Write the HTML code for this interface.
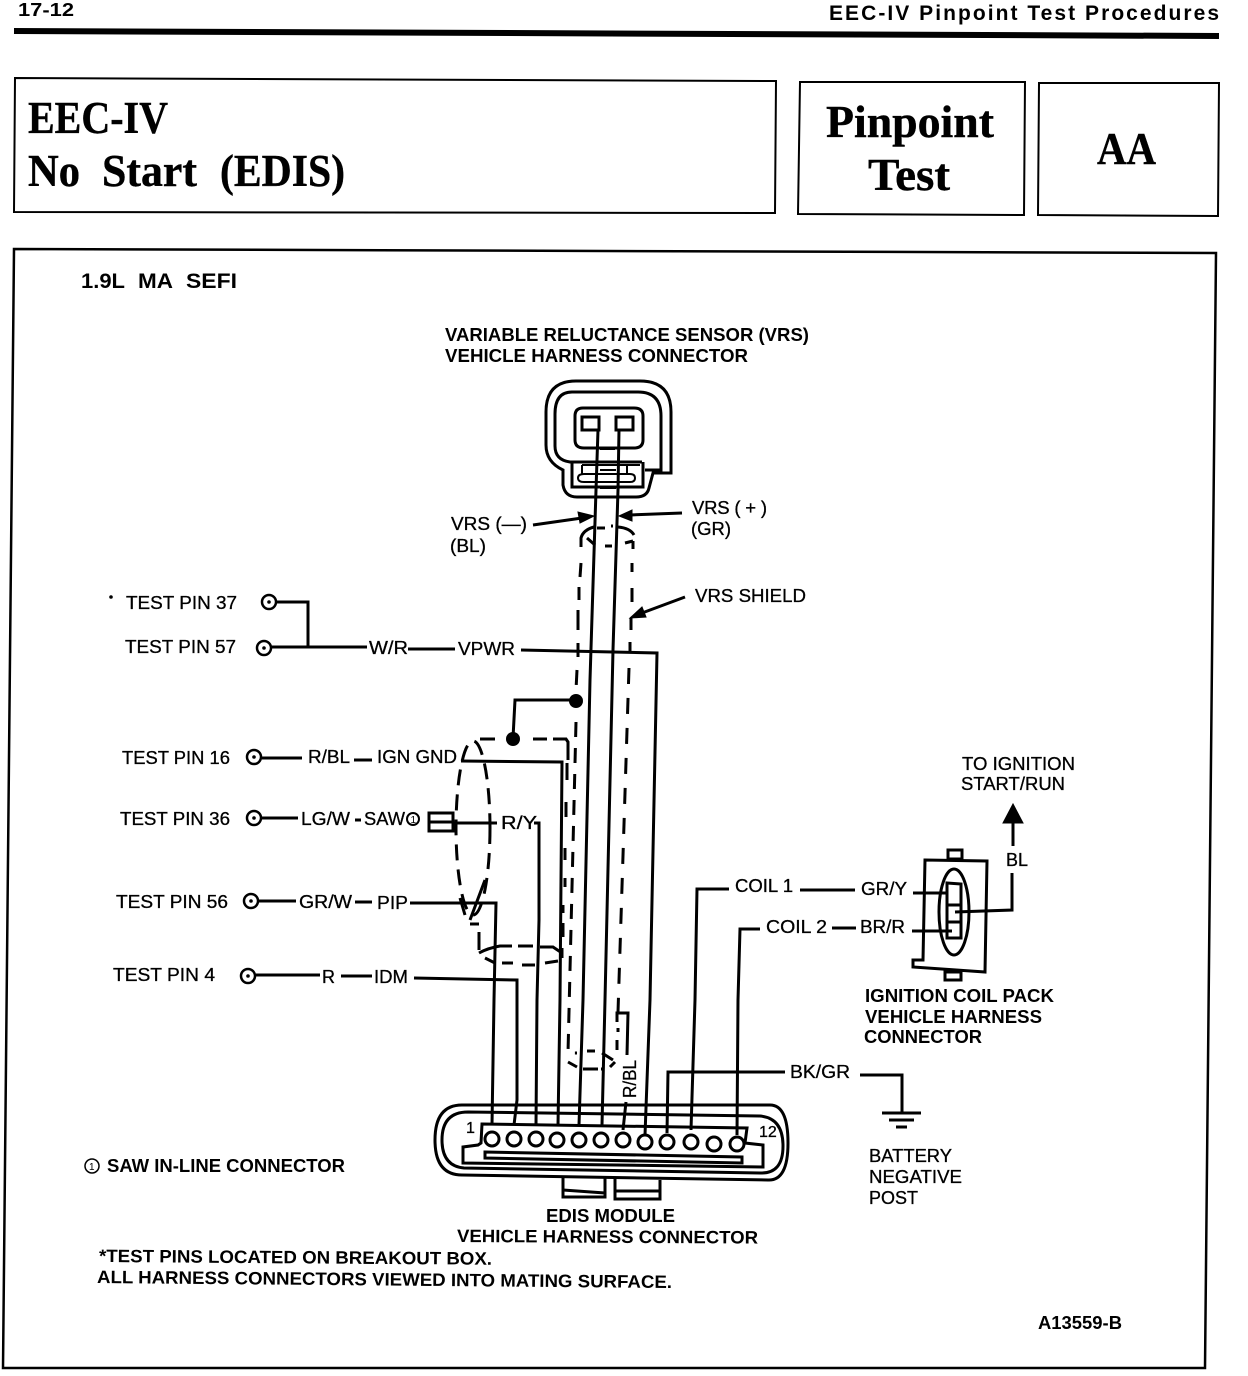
<!DOCTYPE html>
<html><head><meta charset="utf-8"><style>
html,body{margin:0;padding:0;background:#fff}
svg{display:block}
text{font-family:"Liberation Sans",sans-serif;fill:#000;font-size:18.5px;stroke:#000;stroke-width:.3}
.b{font-weight:bold;font-size:18px;stroke-width:0}
.s{font-family:"Liberation Serif",serif;font-weight:bold;font-size:45px;stroke-width:.4}
.w{fill:none;stroke:#000;stroke-width:3}
.d{fill:none;stroke:#000;stroke-width:3;stroke-dasharray:15 11}
.t{fill:none;stroke:#000;stroke-width:2}
</style></head><body>
<svg width="1248" height="1376" viewBox="0 0 1248 1376" xmlns="http://www.w3.org/2000/svg">
<rect width="1248" height="1376" fill="#fff"/>
<text x="18" y="16" class="b" textLength="56" lengthAdjust="spacingAndGlyphs">17-12</text>
<text x="829" y="20" class="b" style="font-size:21px" textLength="390">EEC-IV Pinpoint Test Procedures</text>
<path d="M14 31 L1219 36" stroke="#000" stroke-width="6" fill="none"/>
<path class="t" d="M15 78 L776 81 L775 213 L14 212 Z"/>
<path class="t" d="M800 82 L1025 82 L1024 215 L798 214 Z"/>
<path class="t" d="M1039 83 L1219 83 L1218 216 L1038 215 Z"/>
<text x="28" y="133" class="s" textLength="140" lengthAdjust="spacingAndGlyphs">EEC-IV</text>
<text x="28" y="186" class="s" textLength="52" lengthAdjust="spacingAndGlyphs">No</text>
<text x="102" y="186" class="s" textLength="95" lengthAdjust="spacingAndGlyphs">Start</text>
<text x="220" y="186" class="s" textLength="125" lengthAdjust="spacingAndGlyphs">(EDIS)</text>
<text x="826" y="137" class="s" textLength="168" lengthAdjust="spacingAndGlyphs">Pinpoint</text>
<text x="868" y="190" class="s" textLength="82" lengthAdjust="spacingAndGlyphs">Test</text>
<text x="1097" y="164" class="s" textLength="59" lengthAdjust="spacingAndGlyphs">AA</text>
<path class="w" style="stroke-width:2.5" d="M14 249 L1216 253 L1205 1368 L3 1368 Z"/>
<text x="81" y="288" class="b" style="font-size:21px" textLength="44" lengthAdjust="spacingAndGlyphs">1.9L</text>
<text x="138" y="288" class="b" style="font-size:21px" textLength="35" lengthAdjust="spacingAndGlyphs">MA</text>
<text x="186" y="288" class="b" style="font-size:21px" textLength="51" lengthAdjust="spacingAndGlyphs">SEFI</text>
<text x="445" y="341" class="b" textLength="364" lengthAdjust="spacingAndGlyphs">VARIABLE RELUCTANCE SENSOR (VRS)</text>
<text x="445" y="362" class="b" textLength="303" lengthAdjust="spacingAndGlyphs">VEHICLE HARNESS CONNECTOR</text>

<!-- VRS connector -->
<path class="w" d="M576 381 H640 Q671 381 671 412 V473 H653 L649 488 Q647 497 636 497 H577 Q565 497 563 485 V470 Q546 462 546 445 V412 Q546 381 576 381 Z"/>
<path class="w" d="M572 392 H638 Q661 392 661 416 V470 H645"/>
<path class="w" d="M572 392 Q555 392 555 414 V446 Q555 460 570 462 H642"/>
<path class="w" d="M572 462 V487 H643 V462"/>
<path class="w" d="M583 408 H634 Q643 408 643 416 V440 Q643 448 634 448 H584 Q575 448 575 440 V416 Q575 408 583 408 Z"/>
<rect class="w" x="582" y="417" width="17" height="13"/>
<rect class="w" x="616" y="417" width="17" height="13"/>
<path class="t" d="M600 449 H615 M582 465 H640 M600 470 H616 M600 488 H616 M582 465 V474 M627 465 V474 M600 482 H616"/>
<path class="t" d="M584 474 H630 Q635 474 635 478 Q635 482 630 482 H584 Q578 482 578 478 Q578 474 584 474 Z"/>
<path class="w" d="M598 430 L596 490 L590 680 L583 1000 L579 1125"/>
<path class="w" d="M619 430 L618 490 L613 650 L605 1000 L602 1125"/>

<!-- VRS labels -->
<text x="451" y="530" textLength="76" lengthAdjust="spacingAndGlyphs">VRS (—)</text><text x="450" y="552" textLength="36" lengthAdjust="spacingAndGlyphs">(BL)</text>
<path class="w" d="M533 525 L582 518"/><path d="M594 516 L578 512 L580 523 Z" stroke="#000"/>
<text x="692" y="514" textLength="75">VRS ( + )</text><text x="691" y="535" textLength="40" lengthAdjust="spacingAndGlyphs">(GR)</text>
<path class="w" d="M682 513 L630 515"/><path d="M619 516 L632 510 L632 521 Z" stroke="#000"/>
<text x="695" y="602" textLength="111" lengthAdjust="spacingAndGlyphs">VRS SHIELD</text>
<path class="w" d="M685 597 L642 613"/><path d="M630 618 L642 607 L646 617 Z" stroke="#000"/>

<!-- shield dashes -->
<path class="w" d="M581 547 V538 Q583 530 594 527 M597 528 H605 M611 526 H613 M618 527 Q630 528 634 535 M587 538 L595 545 M605 546 H612 M625 543 L633 541 M633 541 V549 M632 563 V572 M632 588 V602 M631 618 V630 M630 642 V653 M581 563 L580 577 M579 587 V600 M578 610 V630 M578 643 V657"/>
<path class="d" d="M577 670 L576 690"/>
<path class="d" d="M576 722 L568 1053 H577"/>
<path class="d" style="stroke-dasharray:16 14" d="M629 668 L618 1012"/>
<path class="w" d="M617 1022 V1013 H628 L627 1055"/>
<path class="w" d="M587 1051 H595 M602 1053 L613 1060 M617 1040 V1050 M618 1028 V1032 M568 1062 L577 1067 M583 1069 H598 M601 1069 H604 M610 1067 L615 1062"/>

<!-- test pins -->
<circle cx="111" cy="597" r="1.8"/>
<text x="126" y="609" textLength="111" lengthAdjust="spacingAndGlyphs">TEST PIN 37</text>
<text x="125" y="653" textLength="111" lengthAdjust="spacingAndGlyphs">TEST PIN 57</text>
<text x="122" y="764" textLength="108" lengthAdjust="spacingAndGlyphs">TEST PIN 16</text>
<text x="120" y="825" textLength="110" lengthAdjust="spacingAndGlyphs">TEST PIN 36</text>
<text x="116" y="908" textLength="112" lengthAdjust="spacingAndGlyphs">TEST PIN 56</text>
<text x="113" y="981" textLength="102" lengthAdjust="spacingAndGlyphs">TEST PIN 4</text>
<g fill="#fff" stroke="#000" stroke-width="2.5">
<circle cx="269" cy="602" r="7"/><circle cx="264" cy="648" r="7"/><circle cx="254" cy="757" r="7"/><circle cx="254" cy="818" r="7"/><circle cx="251" cy="901" r="7"/><circle cx="248" cy="976" r="7"/>
</g>
<g><circle cx="269" cy="602" r="1.8"/><circle cx="264" cy="648" r="1.8"/><circle cx="254" cy="757" r="1.8"/><circle cx="254" cy="818" r="1.8"/><circle cx="251" cy="901" r="1.8"/><circle cx="248" cy="976" r="1.8"/></g>

<path class="w" d="M276 602 H308 V647 M272 647 H367 M408 649 H455 M521 650 L657 653 L650 1000 L645 1135"/>
<text x="369" y="654" textLength="39" lengthAdjust="spacingAndGlyphs">W/R</text><text x="458" y="655" textLength="57" lengthAdjust="spacingAndGlyphs">VPWR</text>
<path class="w" d="M262 758 H302 M354 760 H372 M262 818 H298 M355 820 H361 M259 901 H296 M355 902 H372 M256 975 H320 M341 976 H372"/>
<text x="308" y="763" textLength="42" lengthAdjust="spacingAndGlyphs">R/BL</text><text x="377" y="763" textLength="80" lengthAdjust="spacingAndGlyphs">IGN GND</text>
<text x="301" y="825" textLength="49" lengthAdjust="spacingAndGlyphs">LG/W</text><text x="364" y="825" textLength="41" lengthAdjust="spacingAndGlyphs">SAW</text>
<circle cx="413" cy="819" r="6" fill="#fff" stroke="#000" stroke-width="2"/><text x="410.5" y="823" style="font-size:10px;stroke-width:0">1</text>
<rect class="w" x="429" y="813" width="24" height="18"/><path class="w" d="M429 822 H453"/>
<path class="w" d="M454 823 H497 M534 823 H539 V920 L537 1000 L536 1125"/>
<text x="501" y="829" textLength="36" lengthAdjust="spacingAndGlyphs">R/Y</text>
<text x="299" y="908" textLength="53" lengthAdjust="spacingAndGlyphs">GR/W</text><text x="377" y="909" textLength="31" lengthAdjust="spacingAndGlyphs">PIP</text>
<text x="322" y="983" textLength="13" lengthAdjust="spacingAndGlyphs">R</text><text x="374" y="983" textLength="34" lengthAdjust="spacingAndGlyphs">IDM</text>
<path class="w" d="M410 903 H496 L494 1000 L492 1125"/>
<path class="w" d="M414 978 L517 980 V1100 L514 1125"/>
<path class="w" d="M461 761 L562 762 L560 1000 L558 1125"/>

<path class="w" d="M513 738 L515 700 H576"/>
<circle cx="576" cy="701" r="7"/><circle cx="513" cy="739" r="7"/>

<ellipse class="d" style="stroke-dasharray:16 9" cx="473" cy="828" rx="17" ry="87"/>
<path class="w" d="M470 924 H479 M479 932 V950 M460 898 L465 915 M485 880 L470 920"/>
<path class="w" d="M480 739 H495 M533 739 H547 M553 739 H566 L568 742 V760 M567 763 V780 M566 802 V817 M565 848 V860 M565 878 V887 M563 905 V913 M563 923 V937 M562 948 V958"/>
<path class="w" d="M479 953 Q488 948 500 946 H512 M518 946 H533 M540 947 H553 L562 953 M485 958 L495 963 M502 963 H513 M522 965 H535 M545 963 L558 961"/>

<!-- EDIS connector -->
<path class="w" d="M462 1105 H770 Q788 1105 788 1143 Q788 1181 768 1180 L462 1175 Q435 1175 435 1140 Q435 1105 462 1105 Z"/>
<path class="w" d="M468 1112 L760 1116 Q783 1118 783 1146 Q783 1174 760 1173 L464 1168 Q442 1166 442 1140 Q442 1112 468 1112 Z"/>
<path class="w" d="M482 1124 L747 1128 L745 1143 L763 1145 V1167 L463 1163 V1147 L478 1145 L481 1143 Z"/>
<path class="w" d="M485 1152 L742 1157 V1163 L485 1158 Z"/>
<g fill="#fff" stroke="#000" stroke-width="3">
<circle cx="492" cy="1139" r="7"/><circle cx="514" cy="1139" r="7"/><circle cx="536" cy="1139" r="7"/><circle cx="557" cy="1140" r="7"/><circle cx="579" cy="1140" r="7"/><circle cx="601" cy="1140" r="7"/><circle cx="623" cy="1140" r="7"/><circle cx="645" cy="1142" r="7"/><circle cx="667" cy="1142" r="7"/><circle cx="691" cy="1142" r="7"/><circle cx="714" cy="1144" r="7"/><circle cx="737" cy="1144" r="7"/>
</g>
<text x="466" y="1133" style="font-size:16px">1</text><text x="759" y="1137" style="font-size:16px">12</text>
<path class="w" d="M563 1178 V1197 H605 V1178 M563 1190 L605 1193 M615 1178 V1199 H660 V1180 M615 1191 L660 1191"/>
<text x="636" y="1098" transform="rotate(-90 636 1098)" textLength="38" lengthAdjust="spacingAndGlyphs">R/BL</text>
<path class="w" d="M626 1102 L623 1130"/>

<!-- coil wires -->
<path class="w" d="M691 1130 L695 1000 L697 889 H729 M800 890 H855 M737 1135 L738 1000 L740 929 H760 M832 928 H856"/>
<path class="w" d="M667 1133 L668 1072 H785 M860 1075 H902 V1112"/>
<text x="735" y="892" textLength="58" lengthAdjust="spacingAndGlyphs">COIL 1</text><text x="766" y="933" textLength="61" lengthAdjust="spacingAndGlyphs">COIL 2</text>
<text x="861" y="895" textLength="46" lengthAdjust="spacingAndGlyphs">GR/Y</text><text x="860" y="933" textLength="45" lengthAdjust="spacingAndGlyphs">BR/R</text>
<text x="790" y="1078" textLength="60" lengthAdjust="spacingAndGlyphs">BK/GR</text>
<path class="w" d="M882 1113 H921 M889 1120 H914 M896 1127 H907"/>

<!-- coil pack -->
<path class="w" d="M925 860 L987 861 L985 972 L913 967 V960 H923 Z"/>
<rect class="w" x="948" y="850" width="14" height="9"/>
<rect class="w" x="945" y="972" width="16" height="8"/>
<ellipse class="w" cx="954" cy="912" rx="15" ry="43"/>
<path class="w" d="M947 883 L961 884 V938 L947 938 Z M948 905 H961 M948 922 H961"/>
<path class="w" d="M913 893 H948 M912 931 H952 M955 912 L1012 910 V873"/>
<path class="w" d="M1013 846 V823"/><path d="M1013 804 L1003 823 H1023 Z" stroke="#000"/>
<text x="1006" y="866" textLength="22" lengthAdjust="spacingAndGlyphs">BL</text>
<text x="962" y="770" textLength="113" lengthAdjust="spacingAndGlyphs">TO IGNITION</text><text x="961" y="790" textLength="104" lengthAdjust="spacingAndGlyphs">START/RUN</text>
<text x="865" y="1002" class="b" textLength="189" lengthAdjust="spacingAndGlyphs">IGNITION COIL PACK</text>
<text x="865" y="1023" class="b" textLength="177" lengthAdjust="spacingAndGlyphs">VEHICLE HARNESS</text>
<text x="864" y="1043" class="b" textLength="118" lengthAdjust="spacingAndGlyphs">CONNECTOR</text>
<text x="869" y="1162" textLength="83" lengthAdjust="spacingAndGlyphs">BATTERY</text><text x="869" y="1183" textLength="93" lengthAdjust="spacingAndGlyphs">NEGATIVE</text><text x="869" y="1204" textLength="49" lengthAdjust="spacingAndGlyphs">POST</text>

<circle cx="92" cy="1166" r="7" fill="#fff" stroke="#000" stroke-width="1.5"/><text x="89" y="1170" style="font-size:10px;stroke-width:0">1</text>
<text x="107" y="1172" class="b" textLength="238" lengthAdjust="spacingAndGlyphs">SAW IN-LINE CONNECTOR</text>
<text x="546" y="1222" class="b" textLength="129" lengthAdjust="spacingAndGlyphs">EDIS MODULE</text>
<text x="457" y="1242" class="b" textLength="301" lengthAdjust="spacingAndGlyphs" transform="rotate(.3 457 1242)">VEHICLE HARNESS CONNECTOR</text>
<text x="99" y="1262" class="b" transform="rotate(.4 99 1262)" textLength="393" lengthAdjust="spacingAndGlyphs">*TEST PINS LOCATED ON BREAKOUT BOX.</text>
<text x="97" y="1283" class="b" transform="rotate(.5 97 1283)" textLength="575" lengthAdjust="spacingAndGlyphs">ALL HARNESS CONNECTORS VIEWED INTO MATING SURFACE.</text>
<text x="1038" y="1329" class="b" textLength="84" lengthAdjust="spacingAndGlyphs">A13559-B</text>
</svg>
</body></html>
